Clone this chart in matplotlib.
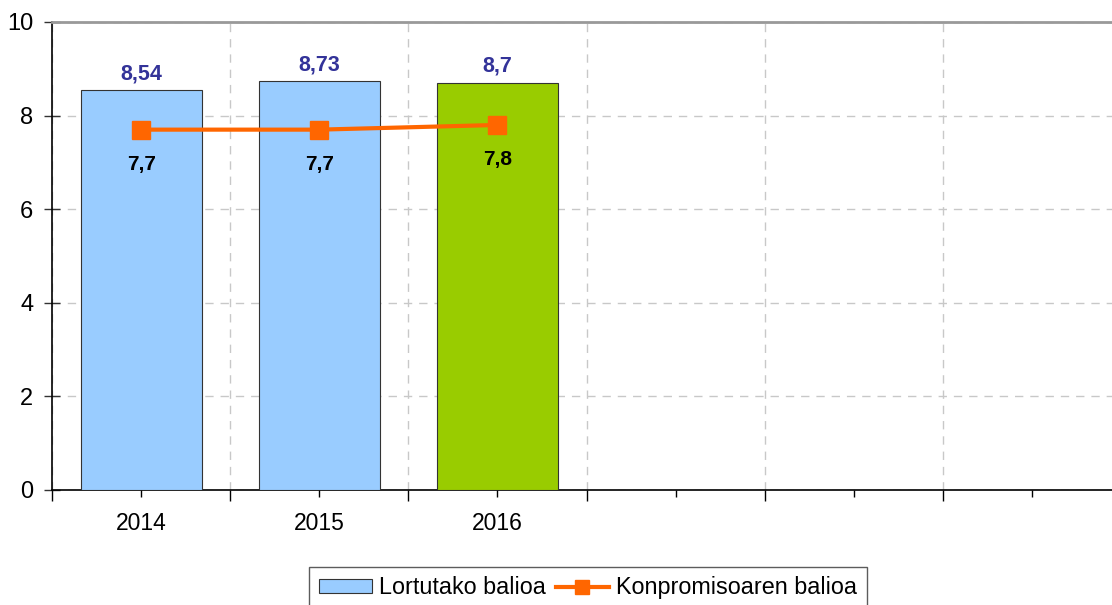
import matplotlib
matplotlib.use("Agg")
import matplotlib.pyplot as plt
from matplotlib.ticker import FixedLocator
from matplotlib.patches import Patch
from matplotlib.lines import Line2D

categories = ["2014", "2015", "2016", "", "", ""]
achieved = [8.54, 8.73, 8.7]
achieved_labels = ["8,54", "8,73", "8,7"]
commitment = [7.7, 7.7, 7.8]
commitment_labels = ["7,7", "7,7", "7,8"]
bar_colors = ["#99CCFF", "#99CCFF", "#99CC00"]

plt.rcParams['font.family'] = ['Liberation Sans', 'DejaVu Sans']

fig = plt.figure(figsize=(11.12, 6.05), dpi=100)
W, H = 1112, 605
left, right, top, bottom = 52, 1121, 22, 490
ax = fig.add_axes([left / W, 1 - bottom / H, (right - left) / W, (bottom - top) / H])

n = len(categories)
xs = list(range(n))
ax.set_xlim(-0.5, n - 0.5)
ax.set_ylim(0, 10)

ax.bar(xs[:len(achieved)], achieved, width=0.68, color=bar_colors,
       edgecolor="#333333", linewidth=0.8, zorder=3)
ax.plot(xs[:len(commitment)], commitment, color="#FF6600", linewidth=3,
        marker="s", markersize=13, zorder=4)

for x, v, lab in zip(xs, achieved, achieved_labels):
    ax.annotate(lab, (x, v), xytext=(0, 12), textcoords="offset points",
                ha="center", va="center", fontsize=15.5, fontweight="bold",
                color="#333399", zorder=5)
for x, v, lab in zip(xs, commitment, commitment_labels):
    ax.annotate(lab, (x, v), xytext=(0, -25), textcoords="offset points",
                ha="center", va="center", fontsize=15, fontweight="bold",
                color="black", zorder=5)

# y axis
ax.set_yticks([0, 2, 4, 6, 8, 10])
ax.set_yticklabels(["0", "2", "4", "6", "8", "10"], fontsize=17)
ax.tick_params(axis="y", direction="inout", length=11, width=1, pad=8, color="#333333")
ax.yaxis.grid(True, color="#C8C8C8", linestyle=(0, (6, 5)), linewidth=1, zorder=0)

# x axis: major at boundaries, minor at centers
bounds = [i - 0.5 for i in range(n + 1)]
ax.xaxis.set_major_locator(FixedLocator(bounds))
ax.xaxis.set_minor_locator(FixedLocator(xs))
ax.set_xticklabels([""] * len(bounds))
ax.set_xticklabels(categories, minor=True, fontsize=16.5)
ax.tick_params(axis="x", which="major", direction="out", length=8, width=1)
ax.tick_params(axis="x", which="minor", direction="out", length=5, width=1, pad=11)
ax.xaxis.grid(True, which="major", color="#C8C8C8", linestyle=(0, (6, 5)), linewidth=1, zorder=0)

for s in ["left", "bottom"]:
    ax.spines[s].set_color("black")
    ax.spines[s].set_linewidth(1.2)
ax.spines["top"].set_color("#999999")
ax.spines["top"].set_linewidth(2)
ax.spines["right"].set_visible(False)
ax.set_axisbelow(True)

handles = [Patch(facecolor="#99CCFF", edgecolor="#333333", linewidth=0.8),
           Line2D([0], [0], color="#FF6600", linewidth=3, marker="s", markersize=10)]
leg = fig.legend(handles, ["Lortutako balioa", "Konpromisoaren balioa"],
                 loc="upper center", bbox_to_anchor=(588 / W, 1 - 567 / H), ncol=2,
                 fontsize=16.8, frameon=True, fancybox=False, edgecolor="#333333",
                 handlelength=2.3, handleheight=0.5, handletextpad=0.3, columnspacing=0.4,
                 borderpad=0.4, borderaxespad=0)
leg.get_frame().set_linewidth(1)

fig.savefig("out.png", dpi=100)
